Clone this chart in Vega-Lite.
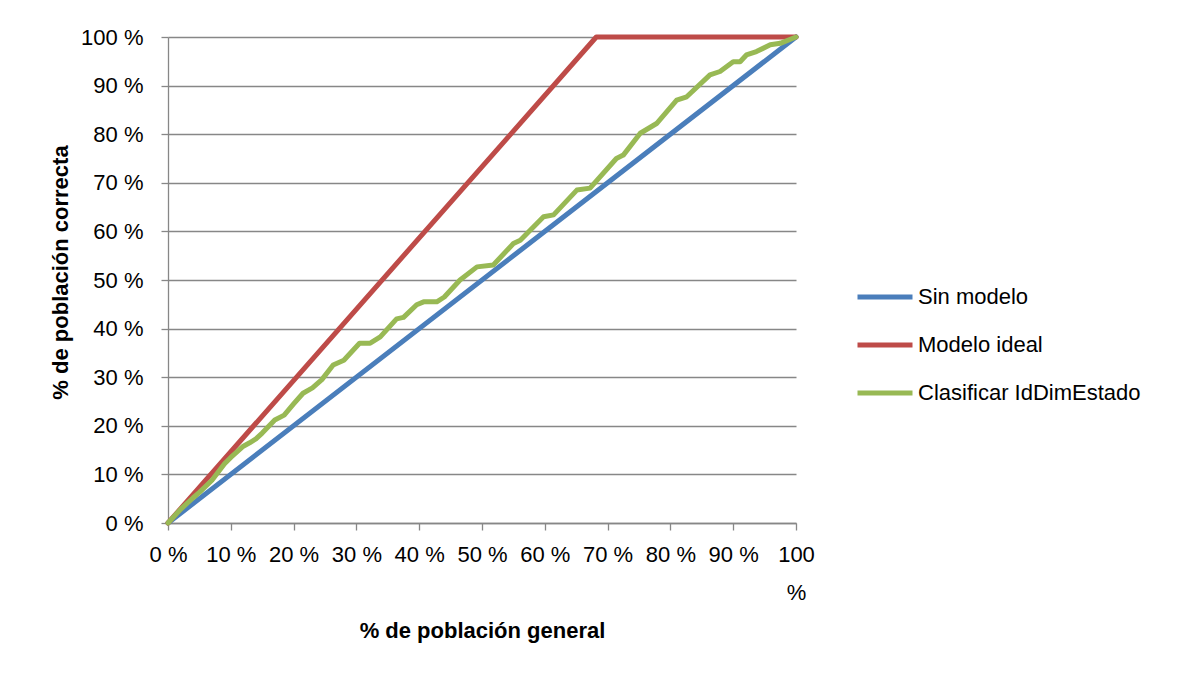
{
  "$schema": "https://vega.github.io/schema/vega-lite/v6.json",
  "autosize": "none",
  "width": 628,
  "height": 486,
  "padding": {"left": 168, "top": 37, "right": 383, "bottom": 152},
  "background": "white",
  "config": {
    "font": "Liberation Sans",
    "view": {"stroke": null},
    "axis": {"labelFont": "Liberation Sans", "titleFont": "Liberation Sans"}
  },
  "data": {
    "values": [
      {"serie": "Sin modelo", "x": 0, "y": 0},
      {"serie": "Sin modelo", "x": 100, "y": 100},
      {"serie": "Modelo ideal", "x": 0, "y": 0},
      {"serie": "Modelo ideal", "x": 68.2, "y": 100},
      {"serie": "Modelo ideal", "x": 100, "y": 100},
      {"serie": "Clasificar IdDimEstado", "x": 0, "y": 0},
      {"serie": "Clasificar IdDimEstado", "x": 2, "y": 2.8},
      {"serie": "Clasificar IdDimEstado", "x": 4, "y": 5.2},
      {"serie": "Clasificar IdDimEstado", "x": 5, "y": 6.3},
      {"serie": "Clasificar IdDimEstado", "x": 7, "y": 8.8},
      {"serie": "Clasificar IdDimEstado", "x": 9, "y": 12.2},
      {"serie": "Clasificar IdDimEstado", "x": 10, "y": 13.5},
      {"serie": "Clasificar IdDimEstado", "x": 12, "y": 15.8},
      {"serie": "Clasificar IdDimEstado", "x": 13, "y": 16.5},
      {"serie": "Clasificar IdDimEstado", "x": 14, "y": 17.3},
      {"serie": "Clasificar IdDimEstado", "x": 15, "y": 18.5},
      {"serie": "Clasificar IdDimEstado", "x": 17, "y": 21.2},
      {"serie": "Clasificar IdDimEstado", "x": 18.5, "y": 22.2},
      {"serie": "Clasificar IdDimEstado", "x": 20, "y": 24.5},
      {"serie": "Clasificar IdDimEstado", "x": 21.5, "y": 26.7},
      {"serie": "Clasificar IdDimEstado", "x": 23, "y": 27.8},
      {"serie": "Clasificar IdDimEstado", "x": 24.5, "y": 29.5},
      {"serie": "Clasificar IdDimEstado", "x": 26.3, "y": 32.5},
      {"serie": "Clasificar IdDimEstado", "x": 28, "y": 33.5},
      {"serie": "Clasificar IdDimEstado", "x": 30.5, "y": 37},
      {"serie": "Clasificar IdDimEstado", "x": 32.2, "y": 37},
      {"serie": "Clasificar IdDimEstado", "x": 33.8, "y": 38.3},
      {"serie": "Clasificar IdDimEstado", "x": 36.4, "y": 42},
      {"serie": "Clasificar IdDimEstado", "x": 37.5, "y": 42.3},
      {"serie": "Clasificar IdDimEstado", "x": 39.6, "y": 44.9},
      {"serie": "Clasificar IdDimEstado", "x": 40.7, "y": 45.5},
      {"serie": "Clasificar IdDimEstado", "x": 42.8, "y": 45.5},
      {"serie": "Clasificar IdDimEstado", "x": 44, "y": 46.5},
      {"serie": "Clasificar IdDimEstado", "x": 46.5, "y": 50},
      {"serie": "Clasificar IdDimEstado", "x": 49.2, "y": 52.7},
      {"serie": "Clasificar IdDimEstado", "x": 51.8, "y": 53.1},
      {"serie": "Clasificar IdDimEstado", "x": 55, "y": 57.5},
      {"serie": "Clasificar IdDimEstado", "x": 56.1, "y": 58.2},
      {"serie": "Clasificar IdDimEstado", "x": 59.8, "y": 63},
      {"serie": "Clasificar IdDimEstado", "x": 61.4, "y": 63.4},
      {"serie": "Clasificar IdDimEstado", "x": 65.1, "y": 68.5},
      {"serie": "Clasificar IdDimEstado", "x": 67.2, "y": 68.9},
      {"serie": "Clasificar IdDimEstado", "x": 71.4, "y": 75},
      {"serie": "Clasificar IdDimEstado", "x": 72.5, "y": 75.7},
      {"serie": "Clasificar IdDimEstado", "x": 75.2, "y": 80.2},
      {"serie": "Clasificar IdDimEstado", "x": 77.8, "y": 82.2},
      {"serie": "Clasificar IdDimEstado", "x": 81, "y": 87},
      {"serie": "Clasificar IdDimEstado", "x": 82.6, "y": 87.7},
      {"serie": "Clasificar IdDimEstado", "x": 86.3, "y": 92.2},
      {"serie": "Clasificar IdDimEstado", "x": 87.9, "y": 92.9},
      {"serie": "Clasificar IdDimEstado", "x": 90, "y": 94.9},
      {"serie": "Clasificar IdDimEstado", "x": 91.1, "y": 94.9},
      {"serie": "Clasificar IdDimEstado", "x": 92.1, "y": 96.3},
      {"serie": "Clasificar IdDimEstado", "x": 93.7, "y": 97},
      {"serie": "Clasificar IdDimEstado", "x": 95.9, "y": 98.4},
      {"serie": "Clasificar IdDimEstado", "x": 97.5, "y": 98.7},
      {"serie": "Clasificar IdDimEstado", "x": 100, "y": 100}
    ]
  },
  "mark": {"type": "line", "strokeWidth": 5, "strokeCap": "round", "strokeJoin": "round"},
  "encoding": {
    "x": {
      "field": "x", "type": "quantitative",
      "scale": {"domain": [0, 100], "nice": false, "zero": true},
      "axis": {
        "values": [0, 10, 20, 30, 40, 50, 60, 70, 80, 90, 100],
        "labelExpr": "datum.value == 100 ? ['100', '%'] : datum.value + ' %'",
        "grid": false,
        "domainColor": "#878787", "domainWidth": 1.3,
        "tickColor": "#878787", "tickWidth": 1.3, "tickSize": 7,
        "labelFontSize": 22, "labelColor": "#000000", "labelPadding": 14,
        "labelLineHeight": 38, "labelOverlap": false, "labelBound": false, "labelFlush": false,
        "title": "% de población general",
        "titleFontSize": 22, "titleFontWeight": "bold", "titleColor": "#000000",
        "titleBaseline": "middle", "titleY": 107
      }
    },
    "y": {
      "field": "y", "type": "quantitative",
      "scale": {"domain": [0, 100], "nice": false, "zero": true},
      "axis": {
        "values": [0, 10, 20, 30, 40, 50, 60, 70, 80, 90, 100],
        "labelExpr": "datum.value + ' %'",
        "grid": true, "gridColor": "#878787", "gridWidth": 1.3,
        "domainColor": "#878787", "domainWidth": 1.3,
        "tickColor": "#878787", "tickWidth": 1.3, "tickSize": 7,
        "labelFontSize": 22, "labelColor": "#000000", "labelPadding": 18,
        "labelOverlap": false, "labelBound": false, "labelFlush": false,
        "title": "% de población correcta",
        "titleFontSize": 22, "titleFontWeight": "bold", "titleColor": "#000000",
        "titleAngle": -90, "titleBaseline": "middle", "titleAlign": "center",
        "titleX": -108, "titleY": 235
      }
    },
    "color": {
      "field": "serie", "type": "nominal",
      "scale": {
        "domain": ["Sin modelo", "Modelo ideal", "Clasificar IdDimEstado"],
        "range": ["#4a7ebb", "#be4b48", "#98b954"]
      },
      "legend": {
        "title": null,
        "orient": "none", "legendX": 687, "legendY": 230,
        "symbolType": "stroke", "symbolSize": 3025, "symbolStrokeWidth": 5,
        "labelFontSize": 22, "labelColor": "#000000", "labelOffset": 3,
        "labelLimit": 400,
        "rowPadding": 7
      }
    }
  }
}
